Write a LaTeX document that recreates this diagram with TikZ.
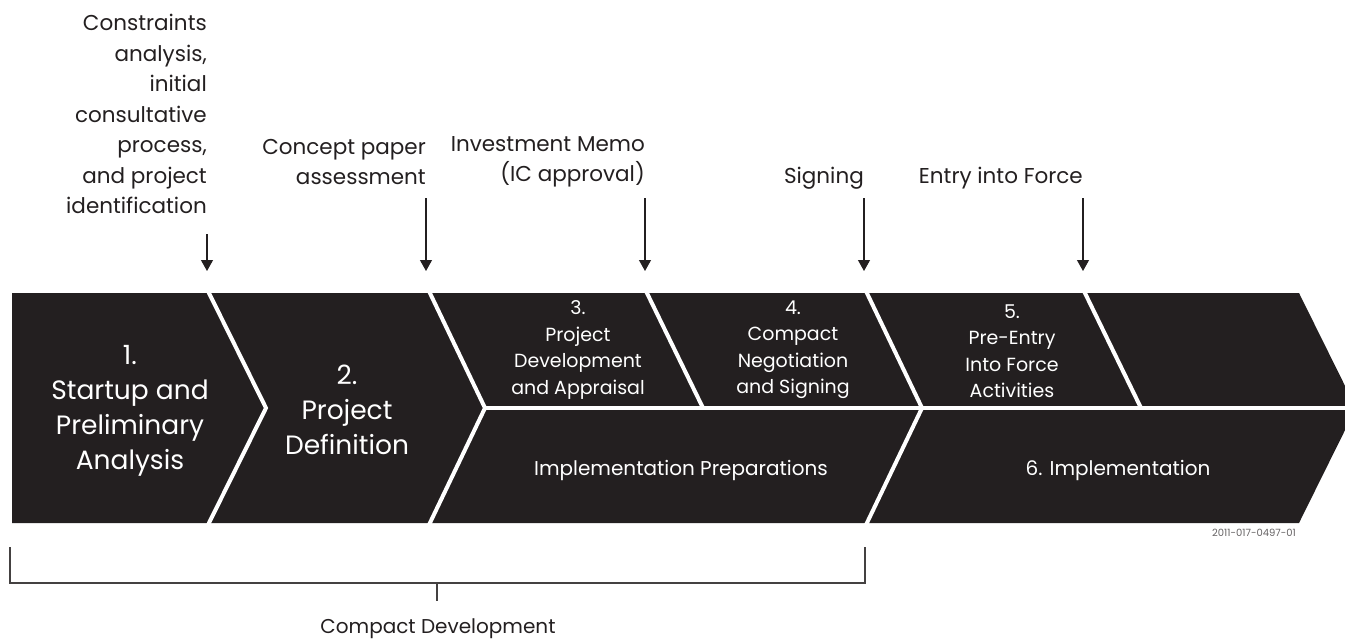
\documentclass[tikz,border=0pt]{standalone}
\usepackage{fontspec}
\setmainfont{Poppins}
\usetikzlibrary{arrows.meta}
\definecolor{ink}{HTML}{231F20}
\begin{document}
\begin{tikzpicture}[x=1pt,y=-1pt,
  gap/.style={draw=white,line width=4pt,line join=miter},
  phasebig/.style={text=white,align=center,inner sep=0pt,font=\fontsize{26.5}{35}\selectfont},
  phasesmall/.style={text=white,align=center,inner sep=0pt,font=\fontsize{19}{26.5}\selectfont},
  phasewide/.style={text=white,align=center,inner sep=0pt,font=\fontsize{20}{24}\selectfont},
  milestone/.style={text=ink,align=right,inner sep=0pt,anchor=east,font=\fontsize{21.5}{30.5}\selectfont},
  event/.style={draw=ink,line width=1.2pt,-{Triangle[width=12pt,length=11pt]}},
  brace/.style={draw=ink!85,line width=1.2pt}]
\useasboundingbox (0,0) rectangle (1345,643);

% dark process band, cut off at the right edge
\begin{scope}
  \clip (0,0) rectangle (1345,643);
  \fill[ink] (12,293) -- (1299,293) -- (1356,408) -- (1299,523) -- (12,523) -- cycle;
\end{scope}

% white separations between the phases
\draw[gap] (207,289) -- (266,408) -- (207,527);
\draw[gap] (428,289) -- (485,408) -- (428,527);
\draw[gap] (865,289) -- (922,408) -- (865,527);
\draw[gap] (645,289) -- (703,408);
\draw[gap] (1083,289) -- (1141,408);
\draw[gap] (485,408) -- (1350,408);

% phase labels
\node[phasebig] (p1) at (130,411) {1.\\Startup and\\Preliminary\\Analysis};
\node[phasebig] (p2) at (347,410) {2.\\Project\\Definition};
\node[phasesmall] (p3) at (578,350) {3.\\Project\\Development\\and Appraisal};
\node[phasesmall] (p4) at (793,350) {4.\\Compact\\Negotiation\\and Signing};
\node[phasesmall] (p5) at (1012,351) {5.\\Pre-Entry\\Into Force\\Activities};
\node[phasewide] (prep) at (681,470) {Implementation Preparations};
\node[phasewide] (impl) at (1118,470) {6. Implementation};
\node[text=ink!70,inner sep=0pt,font=\fontsize{10}{11}\selectfont] (code) at (1254,533) {2011-017-0497-01};

% milestones above the band
\node[milestone] (m1) at (207,114) {Constraints\\analysis,\\initial\\consultative\\process,\\and project\\identification};
\node[milestone] (m2) at (426,162) {Concept paper\\assessment};
\node[milestone] (m3) at (645,162) {Investment Memo\\(IC approval)};
\node[milestone] (m4) at (864,178) {Signing};
\node[milestone] (m5) at (1083,178) {Entry into Force};

\coordinate (s1) at (207,234); \coordinate (t1) at (207,271);
\coordinate (s2) at (426,198); \coordinate (t2) at (426,271);
\coordinate (s3) at (645,198); \coordinate (t3) at (645,271);
\coordinate (s4) at (864,198); \coordinate (t4) at (864,271);
\coordinate (s5) at (1083,198); \coordinate (t5) at (1083,271);
\draw[event] (s1) -- (t1);
\draw[event] (s2) -- (t2);
\draw[event] (s3) -- (t3);
\draw[event] (s4) -- (t4);
\draw[event] (s5) -- (t5);

% bracket spanning the compact development phases
\coordinate (bl) at (10,547);
\coordinate (br) at (865,547);
\coordinate (bm) at (437,583);
\coordinate (bt) at (437,601);
\draw[brace] (bl) |- (bm) -| (br);
\draw[brace] (bm) -- (bt);
\node[text=ink,inner sep=0pt,font=\fontsize{20}{24}\selectfont] (cd) at (438,629) {Compact Development};
\end{tikzpicture}
\end{document}
